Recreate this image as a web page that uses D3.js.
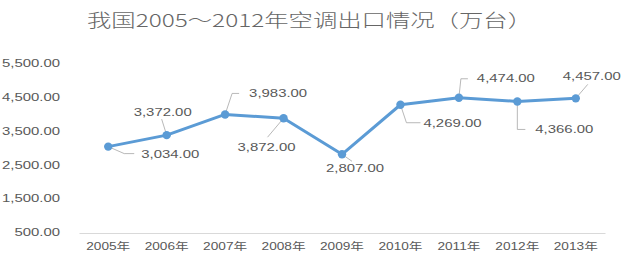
<!DOCTYPE html>
<html>
<head>
<meta charset="utf-8">
<script src="https://cdn.jsdelivr.net/npm/d3@7"></script>
<style>
  body { margin: 0; background: #fff; }
  text { font-family: "Liberation Sans", Arial, sans-serif; fill: #595959; }
</style>
</head>
<body>
<svg id="chart" width="622" height="262"></svg>
<script>
const title = "我国2005～2012年空调出口情况（万台）";
const years = ["2005年", "2006年", "2007年", "2008年", "2009年", "2010年", "2011年", "2012年", "2013年"];
const exports = [3034, 3372, 3983, 3872, 2807, 4269, 4474, 4366, 4457];
const yTicks = [500, 1500, 2500, 3500, 4500, 5500];

// label placement relative to each point: text offset + leader line
const labelPos = [
    { dx: 33, dy: 8, leader: [[0, 0], [16, 7], [26, 7]] },
    { dx: -33, dy: -23, leader: [[0, 0], [-5, -16]] },
    { dx: 24, dy: -21, leader: [[0, 0], [7, -21], [14, -21]] },
    { dx: -46, dy: 29, leader: [[0, 0], [-16, 19]] },
    { dx: -16, dy: 14, leader: [[0, 0], [10, 7]] },
    { dx: 23, dy: 19, leader: [[0, 0], [6, 18], [20, 18]] },
    { dx: 18, dy: -19, leader: [[0, 0], [2, -19], [9, -19]] },
    { dx: 18, dy: 28, leader: [[0, 0], [0, 28], [8, 28]] },
    { dx: -13, dy: -22, leader: [[0, 0], [12, -14]] }
];

const fmt = d3.format(",.2f");
const blue = "#5B9BD5";
const stretchK = 1.42;

const svg = d3.select("#chart");

// the source picture is stretched sideways, so widen the text to match
function stretch(sel, k) {
    sel.each(function() {
        const len = this.getComputedTextLength();
        d3.select(this).attr("textLength", len * k).attr("lengthAdjust", "spacingAndGlyphs");
    });
}

const x = d3.scaleBand().domain(years).range([79, 605]);
const y = d3.scaleLinear().domain([500, 5500]).range([232.5, 63]);
const cx = d => x(d) + x.bandwidth() / 2;

// title
svg.append("text")
    .attr("x", 87)
    .attr("y", 27)
    .attr("textLength", 445)
    .attr("lengthAdjust", "spacingAndGlyphs")
    .style("font-family", "'Noto Sans CJK SC', sans-serif")
    .style("font-size", "18px")
    .style("font-weight", 300)
    .style("fill", "#666")
    .text(title);

// y axis, labels only
const yAxis = svg.append("g")
    .attr("transform", "translate(79,0)")
    .call(d3.axisLeft(y).tickValues(yTicks).tickFormat(fmt).tickSize(0).tickPadding(19));
yAxis.select(".domain").remove();
yAxis.selectAll("text")
    .style("font-family", "'Liberation Sans', Arial, sans-serif")
    .style("font-size", "10.5px")
    .attr("fill", "#595959")
    .call(stretch, stretchK);

// x axis
const xAxis = svg.append("g")
    .attr("transform", "translate(0,233)")
    .call(d3.axisBottom(x).tickSize(0).tickPadding(9.5));
xAxis.select(".domain").attr("stroke", "#d9d9d9");
xAxis.selectAll("text")
    .style("font-family", "'Liberation Sans', 'Noto Sans CJK SC', sans-serif")
    .style("font-size", "10.5px")
    .attr("fill", "#595959")
    .call(stretch, 1.3);

const data = years.map((d, i) => ({ year: d, value: exports[i], pos: labelPos[i] }));

// leader lines
svg.selectAll(".leader")
    .data(data).enter()
    .append("path")
    .attr("class", "leader")
    .attr("fill", "none")
    .attr("stroke", "#a6a6a6")
    .attr("stroke-width", 0.8)
    .attr("d", d => d3.line()(d.pos.leader.map(p => [cx(d.year) + p[0], y(d.value) + p[1]])));

// line
svg.append("path")
    .datum(data)
    .attr("fill", "none")
    .attr("stroke", blue)
    .attr("stroke-width", 3)
    .attr("stroke-linejoin", "round")
    .attr("d", d3.line()
        .x(d => cx(d.year))
        .y(d => y(d.value)));

// markers
svg.selectAll(".pt")
    .data(data).enter()
    .append("circle")
    .attr("class", "pt")
    .attr("r", 4.2)
    .attr("cx", d => cx(d.year))
    .attr("cy", d => y(d.value))
    .attr("fill", blue);

// data labels
svg.selectAll(".lbl")
    .data(data).enter()
    .append("text")
    .attr("class", "lbl")
    .attr("x", d => cx(d.year) + d.pos.dx)
    .attr("y", d => y(d.value) + d.pos.dy)
    .attr("dy", "0.35em")
    .style("font-size", "10.5px")
    .text(d => fmt(d.value))
    .call(stretch, stretchK);
</script>
</body>
</html>
